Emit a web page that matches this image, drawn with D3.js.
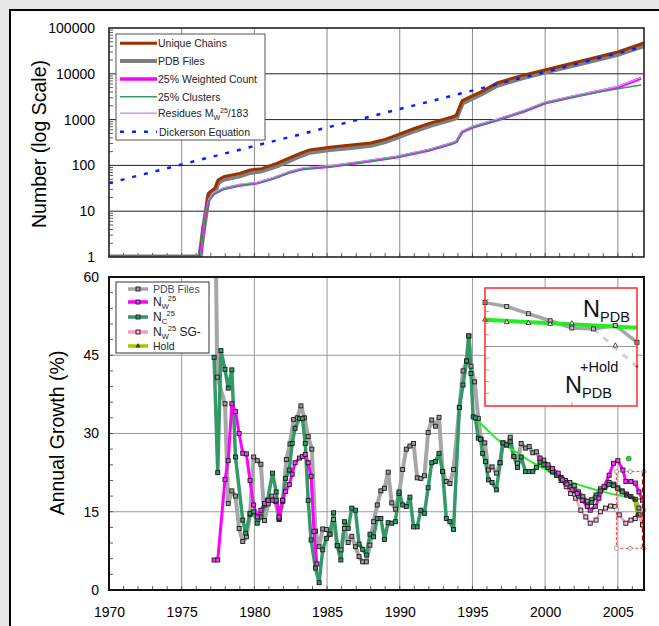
<!DOCTYPE html>
<html>
<head>
<meta charset="utf-8">
<script src="https://cdn.jsdelivr.net/npm/d3@7"></script>
<style>
  body { margin: 0; background: #e6e6e6; }
  svg { display: block; font-family: Arial, "Liberation Sans", sans-serif; }
</style>
</head>
<body>
<svg id="chart" width="659" height="626"></svg>
<script>
// ---- Top panel: cumulative counts (log scale) ----
const topTicks = [1, 10, 100, 1000, 10000, 100000];
const uniqueChains = [[1970,1],[1976.25,1],[1976.5,4.6],[1976.85,25],[1977.3,32],[1977.5,48],[1977.9,57],[1979,67],[1979.7,79],[1980.5,85],[1981.55,111],[1982.3,140],[1983.15,183],[1983.8,218],[1985.2,250],[1986.5,275],[1988,310],[1989,370],[1989.8,460],[1991,640],[1992.1,840],[1993.6,1140],[1993.9,1250],[1994.3,2600],[1994.8,3100],[1995.7,4200],[1996.7,6300],[1998.3,9000],[1999.9,12000],[2002,17500],[2005,30000],[2006.8,47000]];
const pdbFiles = [[1970,1],[1976.25,1],[1976.5,4],[1976.85,22],[1977.3,28],[1977.5,42],[1977.9,50],[1979,59],[1979.7,70],[1980.5,76],[1981.55,98],[1982.3,124],[1983.15,162],[1983.8,194],[1985.2,222],[1986.5,244],[1988,276],[1989,330],[1989.8,410],[1991,570],[1992.1,750],[1993.6,1020],[1993.9,1120],[1994.3,2300],[1994.8,2750],[1995.7,3750],[1996.7,5600],[1998.3,8000],[1999.9,10800],[2002,15500],[2005,26500],[2006.8,41000]];
const weightedCount = [[1970,1],[1976.3,1],[1976.6,7.6],[1976.85,17],[1977.2,24],[1977.9,31],[1979,37],[1980.2,41],[1981.3,52],[1982.5,72],[1983.4,85],[1985.2,95],[1987.5,118],[1989.8,152],[1992,215],[1993.6,300],[1993.9,330],[1994.3,540],[1995,680],[1996.7,980],[1998.5,1500],[2000,2300],[2002,3200],[2005,5100],[2006.6,8000]];
const clusters = [[1970,1],[1976.3,1],[1976.6,7.4],[1976.85,16.5],[1977.2,23.5],[1977.9,30.5],[1979,36.5],[1980.2,40.5],[1981.3,51],[1982.5,71],[1983.4,84],[1985.2,94],[1987.5,117],[1989.8,150],[1992,213],[1993.6,297],[1993.9,327],[1994.3,535],[1995,675],[1996.7,970],[1998.5,1490],[2000,2280],[2002,3150],[2003.5,3900],[2005,4700],[2006.6,5700]];
const residues = [[1970,1],[1976.3,1],[1976.6,8],[1976.85,18],[1977.2,25.5],[1977.9,32.5],[1979,38.5],[1980.2,43],[1981.3,54],[1982.5,75],[1983.4,89],[1985.2,99],[1987.5,123],[1989.8,158],[1992,224],[1993.6,312],[1993.9,343],[1994.3,560],[1995,710],[1996.7,1020],[1998.5,1560],[2000,2400],[2002,3330],[2005,5300],[2006.6,8300]];
const dickerson = [[1970,41],[1975,105],[1980,265],[1985,670],[1990,1700],[1995,4300],[2000,11000],[2005,28000],[2006.8,40000]];

// ---- Bottom panel: annual growth (%) ----
const yearTicks = [1970, 1975, 1980, 1985, 1990, 1995, 2000, 2005];
const growthTicks = [0, 15, 30, 45, 60];
const pdbGrowth = [[1977.3,75],[1977.45,40.8],[1977.98,35.7],[1978.2,16.6],[1978.45,19],[1978.7,18],[1978.95,11.8],[1979.2,9.3],[1979.45,10.2],[1979.7,14.5],[1979.95,25.5],[1980.2,24.8],[1980.45,24.1],[1980.7,13.3],[1980.95,16.5],[1981.2,18],[1981.45,17],[1981.7,13.5],[1981.95,17],[1982.2,25],[1982.45,28],[1982.7,32.7],[1982.95,33],[1983.2,35.3],[1983.45,33],[1983.7,29.4],[1983.95,27],[1984.2,11.3],[1984.45,8.3],[1984.7,11.7],[1984.95,11.6],[1985.2,10.7],[1985.45,13.5],[1985.7,8.5],[1985.95,7.7],[1986.2,11.8],[1986.45,9.1],[1986.7,10.3],[1986.95,8.3],[1987.2,6.4],[1987.45,5.4],[1987.7,5.4],[1987.95,8.6],[1988.2,13.1],[1988.45,16.3],[1988.7,19],[1988.95,19.5],[1989.2,22.6],[1989.45,16.7],[1989.7,15.5],[1989.95,18.5],[1990.2,23.1],[1990.45,27],[1990.7,27.6],[1990.95,28.1],[1991.2,21.5],[1991.45,21.4],[1991.7,21.9],[1991.95,30.2],[1992.2,32.6],[1992.45,31.4],[1992.7,33.1],[1992.95,22.7],[1993.2,20.8],[1993.45,20.4],[1993.7,23.1],[1994.1,35],[1994.35,42],[1994.6,43.9],[1994.75,48.7],[1994.9,42.9],[1995.15,39.9],[1995.4,32.9],[1995.6,28.9],[1995.85,28.2],[1996.1,23],[1996.35,23.6],[1996.65,22.4],[1996.9,24.4],[1997.1,28.2],[1997.35,27.8],[1997.6,29.3],[1997.85,25.6],[1998.1,24.3],[1998.35,28.1],[1998.65,27.2],[1998.9,27.5],[1999.15,26.3],[1999.4,26.5],[1999.65,25],[1999.9,24.9],[2000.2,23.5],[2000.5,22.6],[2000.8,22],[2001.1,21.6],[2001.4,21],[2001.7,20.6],[2002,20],[2002.3,18.8],[2002.6,17.9],[2002.9,17],[2003.2,17.3],[2003.5,18.2],[2003.8,19.4],[2004.1,19.8],[2004.4,20.6],[2004.7,20.3],[2005,19.6],[2005.3,19],[2005.6,18.4],[2005.9,17.9],[2006.2,17.4],[2006.45,15.7],[2006.7,12.5]];
const ncGrowth = [[1977.23,44.6],[1977.48,22.5],[1977.7,45.9],[1977.98,42.3],[1978.2,38.7],[1978.45,42.2],[1978.7,25.5],[1979.2,13.4],[1979.4,10.9],[1979.7,14.7],[1979.95,15],[1980.2,12.8],[1980.45,14],[1980.7,16.3],[1980.9,17.2],[1981.25,22.4],[1981.5,18.8],[1981.7,13.7],[1981.95,17.2],[1982.15,21.4],[1982.4,23],[1982.6,28.1],[1982.8,31],[1983.1,32.9],[1983.3,32.9],[1983.5,28.1],[1983.7,17.2],[1983.9,9.6],[1984.2,4.2],[1984.45,1.4],[1984.7,7.7],[1984.95,9.9],[1985.2,10.7],[1985.45,14.8],[1985.7,8.5],[1985.95,5.75],[1986.2,13.1],[1986.45,11.8],[1986.7,15.7],[1986.95,15.3],[1987.2,8.8],[1987.45,7.8],[1987.7,6.7],[1987.95,10.7],[1988.2,10.2],[1988.45,13.7],[1988.7,13.7],[1988.95,9.7],[1989.2,12.9],[1989.45,12.8],[1989.7,13.1],[1989.95,18.8],[1990.2,16.3],[1990.45,16],[1990.7,17.8],[1990.95,12.1],[1991.2,12.1],[1991.45,15.3],[1991.7,14.7],[1991.95,19.6],[1992.2,24.4],[1992.45,24.6],[1992.7,26.2],[1992.95,22.7],[1993.2,13.7],[1993.45,13.1],[1993.7,11.6],[1994.1,35],[1994.35,39.3],[1994.6,43.9],[1994.75,48.7],[1994.9,41.5],[1995.05,33.2],[1995.2,33],[1995.4,29.1],[1995.55,28.9],[1995.7,26.2],[1995.9,24.6],[1996.1,21.1],[1996.35,20.6],[1996.65,19.2],[1996.9,24.4],[1997.1,28.2],[1997.35,27.8],[1997.6,28.4],[1997.85,25.6],[1998.1,23.5],[1998.35,25.5],[1998.65,22.7],[1998.9,22.7],[1999.15,22.7],[1999.4,23.5],[1999.65,24.5],[1999.9,24],[2000.2,23.5],[2000.5,22.8],[2000.8,22],[2001.1,21.4],[2001.4,20.6],[2001.7,19.8],[2002,19],[2002.3,18],[2002.6,17.2],[2002.9,16.3],[2003.2,16.8],[2003.5,17.8],[2003.8,19],[2004.1,19.6],[2004.4,20.2],[2004.7,20],[2005,19.4],[2005.3,18.8],[2005.6,18.2]];
const nwGrowth = [[1977.23,5.75],[1977.48,5.75],[1977.98,21.2],[1978.2,24.8],[1978.45,35.7],[1978.7,34.2],[1978.95,30],[1979.2,26.2],[1979.45,26.1],[1979.7,21],[1979.95,16.3],[1980.2,14],[1980.45,15.3],[1980.7,16.6],[1980.95,17.2],[1981.25,17.2],[1981.5,17.2],[1981.7,14],[1981.95,17.2],[1982.15,18.9],[1982.4,20.2],[1982.6,22.2],[1982.8,24.4],[1983.1,25.3],[1983.3,25.6],[1983.5,26],[1983.7,24.4],[1983.9,21.8],[1984.1,11.2],[1984.3,5],[1984.5,null],[1999.65,25.3],[2000.2,24],[2000.5,23.3],[2000.9,22.4],[2001.2,21.1],[2001.5,20.3],[2001.85,19.2],[2002.2,18.5],[2002.55,17.2],[2002.9,16],[2003.1,15.3],[2003.45,16],[2003.7,17.6],[2004.05,19.8],[2004.4,22],[2004.7,24.3],[2005,24.8],[2005.35,23],[2005.55,20.8],[2005.9,20.8],[2006.2,20.5],[2006.45,18.8],[2006.7,17.2]];
const nwSgGrowth = [[2000,24],[2000.4,23],[2000.8,22],[2001.1,21],[2001.45,19.8],[2001.75,18.5],[2002.1,17.6],[2002.45,15.3],[2002.8,14],[2003.1,12.8],[2003.5,13.4],[2003.8,15],[2004.15,15.7],[2004.5,16.1],[2004.8,16],[2005.1,14.4],[2005.55,12.8],[2005.9,13.4],[2006.2,13.7],[2006.45,14.4],[2006.7,12.5]];
const holdGrowth = [[2005.6,18.3],[2005.9,17.9],[2006.15,17.4],[2006.35,14.5]];
const holdPoint = [[2005.75,25.2]];
const fitCurve = [[1995.05,33.2],[1995.8,31.3],[1996.5,29.4],[1997.4,27.5],[1998.3,25.9],[1999.2,24.3],[2000.1,23],[2001.4,21.1],[2003.5,19.2],[2005.5,17.9],[2006.7,17.3]];
const selectBoxYears = [2004.9, 2006.8];
const selectBoxGrowth = [8, 22.7];

// ---- Inset ----
const insetIdx = [0, 1, 2, 3, 4, 5, 6, 7];
const insetPdb = [8.75, 8.42, 7.8, 7.2, 6.58, 6.5, 6.8, 5.36];
const insetHoldDash = [[5, 6.5], [7, 3.28]];
const insetFit = [[0, 7.29], [7, 6.6]];
const insetTriangles = [[0, 7.29], [1, 7.08], [2, 7.0], [3, 6.92], [4, 6.97], [6, 5.08]];
const insetMid = 5;

const svg = d3.select("#chart");

const x = d3.scaleLinear().domain([1970, 2006.8]).range([109, 644]);
const yTop = d3.scaleLog().domain([1, 100000]).range([257, 28]);
const yBot = d3.scaleLinear().domain([0, 60]).range([590, 277]);

// White panel with black frame
svg.append("rect").attr("x", 10).attr("y", 10).attr("width", 700).attr("height", 700)
    .attr("fill", "#fff").attr("stroke", "#000").attr("stroke-width", 2);

const defs = svg.append("defs");
defs.append("clipPath").attr("id", "clipTop").append("rect")
    .attr("x", 109).attr("y", 28).attr("width", 536).attr("height", 229);
defs.append("clipPath").attr("id", "clipBot").append("rect")
    .attr("x", 109).attr("y", 277).attr("width", 536).attr("height", 313);

/* ================= TOP PANEL ================= */
const gTop = svg.append("g");

gTop.selectAll("line.vgrid").data(yearTicks.slice(1)).join("line").attr("class", "vgrid")
    .attr("x1", d => x(d)).attr("x2", d => x(d)).attr("y1", 28).attr("y2", 257)
    .attr("stroke", "#8a8a8a").attr("stroke-width", 1);
gTop.selectAll("line.hgrid").data(topTicks.slice(1, -1)).join("line").attr("class", "hgrid")
    .attr("x1", 109).attr("x2", 644).attr("y1", d => yTop(d)).attr("y2", d => yTop(d))
    .attr("stroke", "#222").attr("stroke-width", 1);

// minor log ticks
const logMinor = [];
topTicks.slice(0, -1).forEach(d => d3.range(2, 10).forEach(k => logMinor.push(d * k)));
gTop.selectAll("line.ymin").data(logMinor).join("line").attr("class", "ymin")
    .attr("x1", 109).attr("x2", 113).attr("y1", d => yTop(d)).attr("y2", d => yTop(d))
    .attr("stroke", "#333").attr("stroke-width", 0.8);
gTop.selectAll("line.xmin").data(d3.range(1971, 2007)).join("line").attr("class", "xmin")
    .attr("x1", d => x(d)).attr("x2", d => x(d)).attr("y1", 257).attr("y2", 253)
    .attr("stroke", "#333").attr("stroke-width", 0.8);

const lineTop = d3.line().x(d => x(d[0])).y(d => yTop(d[1]));
const gTopLines = gTop.append("g").attr("clip-path", "url(#clipTop)");
gTopLines.append("path").datum(pdbFiles).attr("d", lineTop)
    .attr("fill", "none").attr("stroke", "#7f7f7f").attr("stroke-width", 5);
gTopLines.append("path").datum(uniqueChains).attr("d", lineTop)
    .attr("fill", "none").attr("stroke", "#993300").attr("stroke-width", 3);
gTopLines.append("path").datum(weightedCount).attr("d", lineTop)
    .attr("fill", "none").attr("stroke", "#ff00ff").attr("stroke-width", 3);
gTopLines.append("path").datum(residues).attr("d", lineTop)
    .attr("fill", "none").attr("stroke", "#cc99ff").attr("stroke-width", 1.3);
gTopLines.append("path").datum(clusters).attr("d", lineTop)
    .attr("fill", "none").attr("stroke", "#339966").attr("stroke-width", 1.5);
gTopLines.append("path").datum(dickerson).attr("d", lineTop)
    .attr("fill", "none").attr("stroke", "#0022ff").attr("stroke-width", 2.5)
    .attr("stroke-dasharray", "4,8");

gTop.append("rect").attr("x", 109).attr("y", 28).attr("width", 535).attr("height", 229)
    .attr("fill", "none").attr("stroke", "#222").attr("stroke-width", 1.6);

gTop.append("g").attr("transform", "translate(109,0)")
    .call(d3.axisLeft(yTop).tickValues(topTicks).tickFormat(d3.format("d")).tickSize(0).tickPadding(14))
    .call(g => g.select(".domain").remove())
    .call(g => g.selectAll("text").attr("font-size", 14).attr("font-family", "Arial, 'Liberation Sans', sans-serif").attr("fill", "#000"));

svg.append("text").attr("transform", "translate(46,144) rotate(-90)")
    .attr("text-anchor", "middle").attr("font-size", 19.5).text("Number (log Scale)");

// top legend
const legTop = svg.append("g");
legTop.append("rect").attr("x", 116).attr("y", 34).attr("width", 149).attr("height", 106)
    .attr("fill", "#fff").attr("stroke", "#555").attr("stroke-width", 1);
const topLegend = [
  { y: 43.3, color: "#993300", w: 3, dash: null, label: "Unique Chains" },
  { y: 61, color: "#7f7f7f", w: 4, dash: null, label: "PDB Files" },
  { y: 79, color: "#ff00ff", w: 3.5, dash: null, label: "25% Weighted Count" },
  { y: 96.7, color: "#339966", w: 1.5, dash: null, label: "25% Clusters" },
  { y: 113.3, color: "#cc99ff", w: 1.5, dash: null, label: "residues" },
  { y: 131.7, color: "#0022ff", w: 2.5, dash: "4,8", label: "Dickerson Equation" }
];
legTop.selectAll("line").data(topLegend).join("line")
    .attr("x1", 120).attr("x2", 157).attr("y1", d => d.y).attr("y2", d => d.y)
    .attr("stroke", d => d.color).attr("stroke-width", d => d.w)
    .attr("stroke-dasharray", d => d.dash);
legTop.selectAll("text").data(topLegend).join("text")
    .attr("x", d => d.label === "Dickerson Equation" ? 159 : 158).attr("y", d => d.y + 3.8)
    .attr("font-size", 10.5).attr("fill", "#222")
    .each(function (d) {
      const t = d3.select(this);
      if (d.label === "residues") {
        t.append("tspan").text("Residues M");
        t.append("tspan").attr("font-size", 7).attr("dy", 3).text("W");
        t.append("tspan").attr("font-size", 7).attr("dy", -7).text("25");
        t.append("tspan").attr("dy", 4).text("/183");
      } else {
        t.text(d.label);
      }
    });

/* ================= BOTTOM PANEL ================= */
const gBot = svg.append("g");

gBot.selectAll("line.vgrid").data(yearTicks.slice(1)).join("line").attr("class", "vgrid")
    .attr("x1", d => x(d)).attr("x2", d => x(d)).attr("y1", 277).attr("y2", 590)
    .attr("stroke", "#999").attr("stroke-width", 1);
gBot.selectAll("line.hgrid").data(growthTicks.slice(1, -1)).join("line").attr("class", "hgrid")
    .attr("x1", 109).attr("x2", 644).attr("y1", d => yBot(d)).attr("y2", d => yBot(d))
    .attr("stroke", "#999").attr("stroke-width", 1);
gBot.selectAll("line.ymin").data(d3.range(3, 60, 3)).join("line").attr("class", "ymin")
    .attr("x1", 109).attr("x2", 113).attr("y1", d => yBot(d)).attr("y2", d => yBot(d))
    .attr("stroke", "#333").attr("stroke-width", 0.8);
gBot.selectAll("line.xmin").data(d3.range(1971, 2007)).join("line").attr("class", "xmin")
    .attr("x1", d => x(d)).attr("x2", d => x(d)).attr("y1", 590).attr("y2", 586)
    .attr("stroke", "#333").attr("stroke-width", 0.8);

const lineBot = d3.line().defined(d => d[1] != null).x(d => x(d[0])).y(d => yBot(d[1]));
const fitLine = d3.line().x(d => x(d[0])).y(d => yBot(d[1])).curve(d3.curveMonotoneX);
const gBotLines = gBot.append("g").attr("clip-path", "url(#clipBot)");

const botSeries = [
  { data: pdbGrowth, color: "#a6a6a6", w: 4, mark: "#9a9a9a" },
  { data: nwSgGrowth, color: "#ff99cc", w: 2.5, mark: "#ffb3d9" },
  { data: ncGrowth, color: "#339966", w: 3.5, mark: "#339966" },
  { data: nwGrowth, color: "#ff00ff", w: 3, mark: "#ff33ff" }
];
botSeries.forEach(s => {
  gBotLines.append("path").datum(s.data).attr("d", lineBot)
      .attr("fill", "none").attr("stroke", s.color).attr("stroke-width", s.w)
      .attr("stroke-linejoin", "round");
});
gBotLines.append("path").datum(holdGrowth).attr("d", lineBot)
    .attr("fill", "none").attr("stroke", "#99cc00").attr("stroke-width", 3.5);
gBotLines.append("path").datum(fitCurve).attr("d", fitLine)
    .attr("fill", "none").attr("stroke", "#22ee22").attr("stroke-width", 2);

botSeries.forEach(s => {
  gBotLines.append("g").selectAll("rect")
      .data(s.data.filter(d => d[1] != null && d[1] <= 60)).join("rect")
      .attr("x", d => x(d[0]) - 2).attr("y", d => yBot(d[1]) - 2)
      .attr("width", 4).attr("height", 4)
      .attr("fill", s.mark).attr("stroke", "#1a1a1a").attr("stroke-width", 0.9);
});
gBotLines.append("g").selectAll("path").data(holdGrowth).join("path")
    .attr("d", d3.symbol(d3.symbolTriangle, 12))
    .attr("transform", d => `translate(${x(d[0])},${yBot(d[1])})`)
    .attr("fill", "#333");
gBotLines.append("g").selectAll("circle").data(holdPoint).join("circle")
    .attr("cx", d => x(d[0])).attr("cy", d => yBot(d[1])).attr("r", 2.5)
    .attr("fill", "#33cc33").attr("stroke", "#1a7a1a").attr("stroke-width", 0.6);

// dashed selection box
const sb = {
  x0: x(selectBoxYears[0]), x1: x(selectBoxYears[1]),
  y0: yBot(selectBoxGrowth[1]), y1: yBot(selectBoxGrowth[0])
};
gBot.append("rect").attr("x", sb.x0).attr("y", sb.y0)
    .attr("width", sb.x1 - sb.x0).attr("height", sb.y1 - sb.y0)
    .attr("fill", "none").attr("stroke", "#ff3333").attr("stroke-width", 1)
    .attr("stroke-dasharray", "3,2");
gBot.append("line").attr("x1", sb.x1 - 1).attr("x2", sb.x1 - 1).attr("y1", sb.y0).attr("y2", sb.y1)
    .attr("stroke", "#cc0000").attr("stroke-width", 2.2).attr("stroke-dasharray", "5,3");
const handles = [];
[sb.x0, (sb.x0 + sb.x1) / 2, sb.x1].forEach(hx => [sb.y0, sb.y1].forEach(hy => handles.push([hx, hy])));
handles.push([sb.x0, (sb.y0 + sb.y1) / 2], [sb.x1, (sb.y0 + sb.y1) / 2]);
gBot.append("g").selectAll("circle").data(handles).join("circle")
    .attr("cx", d => d[0]).attr("cy", d => d[1]).attr("r", 2)
    .attr("fill", "#fff").attr("stroke", "#777").attr("stroke-width", 0.7);

// frame
gBot.append("rect").attr("x", 109).attr("y", 277).attr("width", 535).attr("height", 313)
    .attr("fill", "none").attr("stroke", "#111").attr("stroke-width", 2);

gBot.append("g").attr("transform", "translate(109,0)")
    .call(d3.axisLeft(yBot).tickValues(growthTicks).tickSize(0).tickPadding(10))
    .call(g => g.select(".domain").remove())
    .call(g => g.selectAll("text").attr("font-size", 14).attr("font-family", "Arial, 'Liberation Sans', sans-serif").attr("fill", "#000"));
gBot.append("g").attr("transform", "translate(0,590)")
    .call(d3.axisBottom(x).tickValues(yearTicks).tickFormat(d3.format("d")).tickSize(0).tickPadding(17))
    .call(g => g.select(".domain").remove())
    .call(g => g.selectAll("text").attr("font-size", 14).attr("font-family", "Arial, 'Liberation Sans', sans-serif").attr("fill", "#000"));

svg.append("text").attr("transform", "translate(64,433) rotate(-90)")
    .attr("text-anchor", "middle").attr("font-size", 19.5).text("Annual Growth (%)");

// bottom legend
const legBot = svg.append("g");
legBot.append("rect").attr("x", 116).attr("y", 282).attr("width", 93).attr("height", 71)
    .attr("fill", "#fff").attr("stroke", "#333").attr("stroke-width", 1);
const botLegend = [
  { y: 289, color: "#a6a6a6", mark: "#9a9a9a", tri: false, key: "pdb" },
  { y: 302, color: "#ff00ff", mark: "#ff33ff", tri: false, key: "nw" },
  { y: 317, color: "#339966", mark: "#339966", tri: false, key: "nc" },
  { y: 332, color: "#ff99cc", mark: "#ffb3d9", tri: false, key: "sg" },
  { y: 346, color: "#99cc00", mark: "#333", tri: true, key: "hold" }
];
legBot.selectAll("line").data(botLegend).join("line")
    .attr("x1", 128).attr("x2", 148).attr("y1", d => d.y).attr("y2", d => d.y)
    .attr("stroke", d => d.color).attr("stroke-width", 3.5);
legBot.selectAll("rect.mk").data(botLegend.filter(d => !d.tri)).join("rect").attr("class", "mk")
    .attr("x", 136).attr("y", d => d.y - 2).attr("width", 4).attr("height", 4)
    .attr("fill", d => d.mark).attr("stroke", "#1a1a1a").attr("stroke-width", 0.9);
legBot.selectAll("path.tri").data(botLegend.filter(d => d.tri)).join("path").attr("class", "tri")
    .attr("d", d3.symbol(d3.symbolTriangle, 12))
    .attr("transform", d => `translate(138,${d.y})`).attr("fill", "#333");
legBot.selectAll("text").data(botLegend).join("text")
    .attr("x", 153).attr("y", d => d.y + 4).attr("font-size", 10.5).attr("fill", "#222")
    .each(function (d) {
      const t = d3.select(this);
      if (d.key === "pdb") { t.attr("fill", "#3d4a6b").text("PDB Files"); }
      else if (d.key === "hold") { t.text("Hold"); }
      else {
        t.append("tspan").attr("font-size", 12).text("N");
        t.append("tspan").attr("font-size", 7.5).attr("dy", 3).text(d.key === "nc" ? "C" : "W");
        t.append("tspan").attr("font-size", 7.5).attr("dy", -8).attr("dx", d.key === "nc" ? -0.5 : -1).text("25");
        if (d.key === "sg") t.append("tspan").attr("font-size", 12).attr("dy", 5).text(" SG-");
      }
    });

/* ================= INSET ================= */
const ix = d3.scaleLinear().domain([0, 7]).range([485, 637]);
const iy = d3.scaleLinear().domain([0, 10]).range([405, 288]);
const gIn = svg.append("g");
gIn.append("rect").attr("x", 485).attr("y", 288).attr("width", 152).attr("height", 118)
    .attr("fill", "#fff");
gIn.append("line").attr("x1", 485).attr("x2", 637).attr("y1", iy(insetMid)).attr("y2", iy(insetMid))
    .attr("stroke", "#999").attr("stroke-width", 1.2);
gIn.selectAll("line.tk").data(d3.range(1, 10)).join("line").attr("class", "tk")
    .attr("x1", 485).attr("x2", 489).attr("y1", d => iy(d)).attr("y2", d => iy(d))
    .attr("stroke", "#ff5555").attr("stroke-width", 0.8);
gIn.append("line").attr("x1", ix(4)).attr("x2", ix(4)).attr("y1", 406).attr("y2", 402)
    .attr("stroke", "#ff5555").attr("stroke-width", 0.8);

const insetLine = d3.line().x(d => ix(d[0])).y(d => iy(d[1]));
const insetPdbPts = insetIdx.map((i, k) => [i, insetPdb[k]]);
gIn.append("path").datum(insetHoldDash).attr("d", insetLine)
    .attr("fill", "none").attr("stroke", "#cfcfcf").attr("stroke-width", 3).attr("stroke-dasharray", "6,7");
gIn.append("path").datum(insetPdbPts).attr("d", insetLine)
    .attr("fill", "none").attr("stroke", "#a6a6a6").attr("stroke-width", 3.5);
gIn.append("path").datum(insetFit).attr("d", insetLine)
    .attr("fill", "none").attr("stroke", "#22ee22").attr("stroke-width", 4);
gIn.selectAll("rect.pm").data(insetPdbPts).join("rect").attr("class", "pm")
    .attr("x", d => ix(d[0]) - 2).attr("y", d => iy(d[1]) - 2).attr("width", 4).attr("height", 4)
    .attr("fill", "#bbb").attr("stroke", "#1a1a1a").attr("stroke-width", 0.8);
gIn.selectAll("path.tr").data(insetTriangles).join("path").attr("class", "tr")
    .attr("d", d3.symbol(d3.symbolTriangle, 10))
    .attr("transform", d => `translate(${ix(d[0])},${iy(d[1])})`)
    .attr("fill", "#fff").attr("stroke", "#222").attr("stroke-width", 0.8);
gIn.append("circle").attr("cx", ix(insetHoldDash[1][0])).attr("cy", iy(insetHoldDash[1][1])).attr("r", 1.3)
    .attr("fill", "#222");
gIn.append("rect").attr("x", 485).attr("y", 288).attr("width", 152).attr("height", 118)
    .attr("fill", "none").attr("stroke", "#ff2a2a").attr("stroke-width", 1.5);

const n1 = gIn.append("text").attr("x", 583).attr("y", 317).attr("fill", "#111");
n1.append("tspan").attr("font-size", 23.5).text("N");
n1.append("tspan").attr("font-size", 14.5).attr("dy", 5).text("PDB");
gIn.append("text").attr("x", 580).attr("y", 372).attr("font-size", 14.5).attr("fill", "#111").text("+Hold");
const n2 = gIn.append("text").attr("x", 565).attr("y", 393).attr("fill", "#111");
n2.append("tspan").attr("font-size", 23.5).text("N");
n2.append("tspan").attr("font-size", 14.5).attr("dy", 5).text("PDB");
</script>
</body>
</html>
